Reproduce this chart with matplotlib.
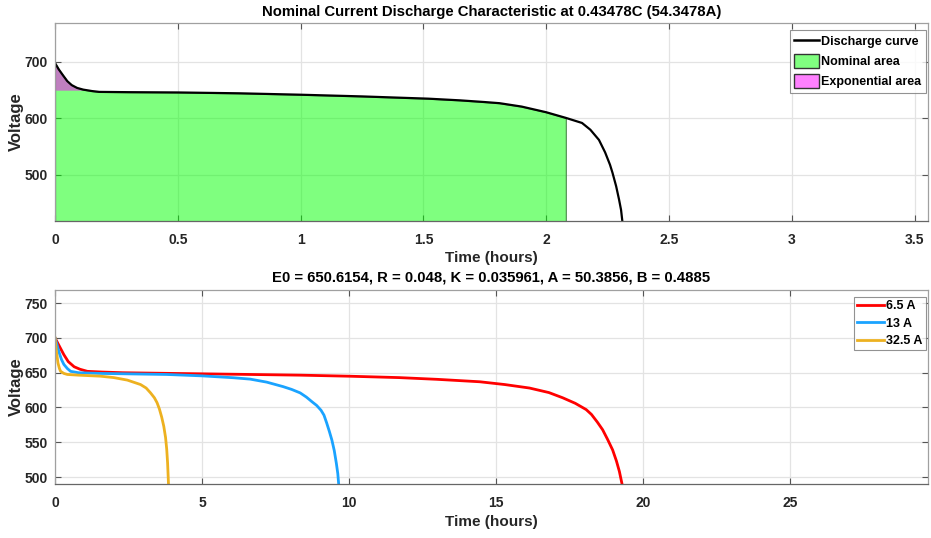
import numpy as np
import matplotlib
matplotlib.use('Agg')
import matplotlib.pyplot as plt
from matplotlib.patches import Patch
from matplotlib.lines import Line2D

plt.rcParams['font.family'] = ['Liberation Sans', 'DejaVu Sans']
plt.rcParams['font.weight'] = 'bold'

# --- top panel: nominal current discharge ---
t_nom = [0, 0.015, 0.033, 0.05, 0.068, 0.09, 0.115, 0.15, 0.18, 0.3, 0.5, 0.75,
         1.0, 1.25, 1.52, 1.65, 1.75, 1.81, 1.9, 2.0, 2.08, 2.146, 2.18, 2.215,
         2.24, 2.26, 2.27, 2.285, 2.297, 2.305, 2.31]
v_nom = [698, 687, 676, 666, 659, 654, 651, 648.5, 647, 646.5, 646, 644.5,
         642, 639, 635, 632, 629, 627, 621, 611, 601, 592, 580, 562,
         540, 518, 504, 480, 456, 438, 419]
t_nominal_end = 2.08
t_exp_end = 0.115
v_exp_base = 650

# --- bottom panel: discharge at several currents ---
t_65 = [0, 0.15, 0.3, 0.45, 0.65, 0.85, 1.1, 1.6, 2.3, 4, 6.64, 8.34, 10, 11.7,
        13, 14.45, 15.3, 16.14, 16.8, 17.27, 17.7, 18.07, 18.25, 18.45, 18.63,
        18.8, 18.97, 19.1, 19.2, 19.29]
v_65 = [700, 688, 676, 666, 658.6, 655, 652, 651, 650, 649, 647.5, 646.5, 645,
        643, 640.5, 637, 633, 628, 621.5, 614, 606, 597, 590, 579, 568,
        554, 539, 523, 508, 490]
t_13 = [0, 0.07, 0.14, 0.22, 0.3, 0.42, 0.53, 0.8, 1.55, 3.8, 5, 6.07, 6.64,
        7.2, 7.76, 8.05, 8.34, 8.55, 8.75, 8.9, 9.05, 9.15, 9.24, 9.33, 9.42,
        9.5, 9.57, 9.62, 9.65]
v_13 = [700, 690, 679, 669, 662, 656, 652, 650, 649, 647.5, 645.5, 642.8, 640.8,
        636.5, 630, 626, 621, 615, 608, 603, 596, 589, 578, 566, 553,
        538, 520, 505, 490]
t_325 = [0, 0.05, 0.1, 0.15, 0.19, 0.3, 0.42, 0.8, 1.55, 2.0, 2.46, 2.91, 3.1,
         3.25, 3.38, 3.47, 3.55, 3.63, 3.7, 3.76, 3.8, 3.83, 3.86]
v_325 = [700, 680, 664, 656, 652, 649, 647.5, 646.5, 645, 643, 639.4, 633, 628,
         621, 614, 607, 598, 586, 573, 557, 540, 520, 490]
labels = ['6.5 A', '13 A', '32.5 A']
colors = ['#ff0000', '#1aa3ff', '#edb120']

top_title = 'Nominal Current Discharge Characteristic at 0.43478C (54.3478A)'
bot_title = 'E0 = 650.6154, R = 0.048, K = 0.035961, A = 50.3856, B = 0.4885'

fig = plt.figure(figsize=(9.31, 5.38), dpi=100)
ax1 = fig.add_axes([0.0591, 0.5898, 0.9377, 0.3675])
ax2 = fig.add_axes([0.0591, 0.1004, 0.9377, 0.3606])

tc = '#262626'


def style(ax):
    ax.grid(True, color='#e3e3e3', lw=0.9)
    ax.set_axisbelow(True)
    ax.tick_params(direction='in', length=4, width=0.8, colors='#555555',
                   labelcolor=tc, labelsize=10, top=True, right=True)
    ax.tick_params(axis='x', pad=9)
    ax.tick_params(axis='y', pad=5)
    for s in ax.spines.values():
        s.set_color('#a0a0a0')
        s.set_linewidth(0.9)
    ax.spines['bottom'].set_color('#666666')
    for lab in ax.get_xticklabels() + ax.get_yticklabels():
        lab.set_fontweight('bold')
    ax.yaxis.set_label_coords(-0.036, 0.5)


def style_legend(leg):
    leg.get_frame().set_edgecolor('#777777')
    leg.get_frame().set_linewidth(0.8)
    for txt in leg.get_texts():
        txt.set_fontweight('bold')


# top panel
t_arr = np.array(t_nom)
v_arr = np.array(v_nom)
m_nom = t_arr <= t_nominal_end
ax1.fill_between(t_arr[m_nom], 0, v_arr[m_nom], color=(0, 1, 0, 0.5),
                 edgecolor='#4a8a4a', lw=0.8)
m_exp = t_arr <= t_exp_end
ax1.fill_between(t_arr[m_exp], v_exp_base, v_arr[m_exp], color=(1, 0, 1, 0.5),
                 lw=0)
ax1.plot(t_nom, v_nom, color='black', lw=1.6)
ax1.set_xlim(0, 3.555)
ax1.set_ylim(419, 769)
ax1.set_xticks([0, 0.5, 1, 1.5, 2, 2.5, 3, 3.5])
ax1.set_xticklabels(['0', '0.5', '1', '1.5', '2', '2.5', '3', '3.5'])
ax1.set_yticks([500, 600, 700])
style(ax1)
ax1.set_title(top_title, fontsize=10.7, fontweight='bold', color='black', pad=5)
ax1.set_xlabel('Time (hours)', fontsize=11, fontweight='bold', color=tc, labelpad=3)
ax1.set_ylabel('Voltage', fontsize=12, fontweight='bold', color=tc)
handles = [Line2D([], [], color='black', lw=1.8),
           Patch(facecolor='#80ff80', edgecolor='#333333'),
           Patch(facecolor='#ff80ff', edgecolor='#333333')]
leg = ax1.legend(handles, ['Discharge curve', 'Nominal area', 'Exponential area'],
                 loc='upper right', bbox_to_anchor=(0.9975, 0.965), fontsize=9,
                 frameon=True, fancybox=False, borderpad=0.35, labelspacing=0.5,
                 handlelength=2.0, handleheight=1.25, handletextpad=0.15,
                 borderaxespad=0.0)
style_legend(leg)

# bottom panel
for tt, vv, lab, c in zip([t_65, t_13, t_325], [v_65, v_13, v_325], labels, colors):
    ax2.plot(tt, vv, color=c, lw=2, label=lab)
ax2.set_xlim(0, 29.7)
ax2.set_ylim(490, 769)
ax2.set_xticks([0, 5, 10, 15, 20, 25])
ax2.set_yticks([500, 550, 600, 650, 700, 750])
style(ax2)
ax2.set_title(bot_title, fontsize=10.7, fontweight='bold', color='black', pad=6)
ax2.set_xlabel('Time (hours)', fontsize=11, fontweight='bold', color=tc, labelpad=3)
ax2.set_ylabel('Voltage', fontsize=12, fontweight='bold', color=tc)
leg2 = ax2.legend(loc='upper right', bbox_to_anchor=(0.9975, 0.965), fontsize=9,
                  frameon=True, fancybox=False, borderpad=0.25, labelspacing=0.45,
                  handlelength=2.2, handletextpad=0.15, borderaxespad=0.0)
style_legend(leg2)

fig.savefig('out.png', dpi=100)
